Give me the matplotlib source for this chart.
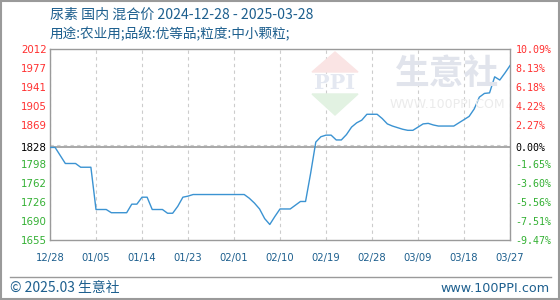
"""Grafico de precio: urea (尿素) mercado interno, estilo 100ppi."""

import matplotlib

matplotlib.use("Agg")
import matplotlib.pyplot as plt
from matplotlib.patches import Polygon, Rectangle
import numpy as np
import pandas as pd

plt.rcParams["font.family"] = ["Noto Sans CJK SC", "DejaVu Sans"]

TITULO = "尿素 国内 混合价 2024-12-28 - 2025-03-28"
SUBTITULO = "用途:农业用;品级:优等品;粒度:中小颗粒;"
PIE_IZQ = "© 2025.03 生意社"
PIE_DER = "www.100PPI.com"

FECHAS = pd.date_range("2024-12-28", "2025-03-28", freq="D")
PRECIOS = [
    1828, 1828, 1813, 1798, 1798, 1798, 1791, 1791, 1791, 1712,
    1712, 1712, 1706, 1706, 1706, 1706, 1722, 1722, 1735, 1735,
    1712, 1712, 1712, 1705, 1705, 1718, 1735, 1737, 1740, 1740,
    1740, 1740, 1740, 1740, 1740, 1740, 1740, 1740, 1740, 1733,
    1724, 1713, 1695, 1684, 1699, 1713, 1713, 1713, 1720, 1727,
    1727, 1780, 1838, 1848, 1851, 1851, 1842, 1842, 1852, 1866,
    1874, 1879, 1890, 1890, 1890, 1882, 1872, 1868, 1865, 1862,
    1860, 1860, 1866, 1872, 1873, 1870, 1868, 1868, 1868, 1868,
    1874, 1880, 1886, 1900, 1922, 1929, 1930, 1960, 1954, 1967,
    1981,
]

BASE = 1828
Y_MIN, Y_MAX = 1655, 2012
ETIQUETAS_Y = ["1655", "1690", "1726", "1762", "1798", "1828",
               "1869", "1905", "1941", "1977", "2012"]
ETIQUETAS_PCT = ["-9.47%", "-7.51%", "-5.56%", "-3.60%", "-1.65%", "0.00%",
                 "2.27%", "4.22%", "6.18%", "8.13%", "10.09%"]
ETIQUETAS_X = ["12/28", "01/05", "01/14", "01/23", "02/01", "02/10",
               "02/19", "02/28", "03/09", "03/18", "03/27"]

AZUL_TEXTO = "#1d5f8e"
ROJO = "#ff3030"
VERDE = "#33b033"
GRIS = "#9a9a9a"
ANCHO, ALTO = 560, 300


def px(x, y):
    return x / ANCHO, 1 - y / ALTO


def color_etiqueta(i):
    if i > 5:
        return ROJO
    if i < 5:
        return VERDE
    return "black"


def marca_agua(fig):
    # logo PPI y texto de fondo, muy tenue
    fig.patches.append(Polygon([px(312, 72), px(335, 52), px(358, 72)], closed=True,
                               transform=fig.transFigure, color="#fae4e4", zorder=0))
    fig.patches.append(Polygon([px(312, 94), px(335, 115), px(358, 94)], closed=True,
                               transform=fig.transFigure, color="#e2f2e2", zorder=0))
    fig.text(*px(335, 83), "PPI", fontsize=15, fontweight="bold", color="#e4e8f1",
             ha="center", va="center", family="DejaVu Serif", zorder=0)
    fig.text(*px(447, 73), "生意社", fontsize=25, fontweight="bold", color="#e1e4ec",
             ha="center", va="center", zorder=0)
    fig.text(*px(447, 104), "WWW.100PPI.COM", fontsize=9, color="#ebebeb",
             ha="center", va="center", family="DejaVu Sans", zorder=0)


def main():
    dias = (FECHAS - FECHAS[0]).days
    fig = plt.figure(figsize=(5.6, 3.0), dpi=100)
    fig.patch.set_facecolor("white")

    ax = fig.add_axes([50 / ANCHO, 1 - 240 / ALTO, 460 / ANCHO, 191 / ALTO])
    ax.set_facecolor("none")
    marca_agua(fig)

    grilla_y = np.linspace(Y_MIN, Y_MAX, 11)
    pos_y = grilla_y.copy()
    pos_y[5] = BASE

    ax.plot(dias, PRECIOS, color="#3b93d2", lw=1.0, zorder=3)
    ax.axhline(BASE, color=GRIS, lw=1.2, zorder=2)

    ax.set_xlim(0, dias[-1])
    ax.set_ylim(Y_MIN, Y_MAX)
    ax.set_xticks(np.linspace(0, dias[-1], 11))
    ax.set_xticklabels(ETIQUETAS_X, fontsize=7.2, color=AZUL_TEXTO, family="DejaVu Sans")
    ax.set_yticks(pos_y)
    ax.set_yticklabels(ETIQUETAS_Y, fontsize=7.4, family="DejaVu Sans")
    ax.set_yticks(grilla_y, minor=True)
    for i, etiqueta in enumerate(ax.get_yticklabels()):
        etiqueta.set_color(color_etiqueta(i))

    ax.tick_params(axis="both", which="both", length=0)
    ax.tick_params(axis="x", pad=9)
    ax.tick_params(axis="y", pad=21)
    for etiqueta in ax.get_yticklabels():
        etiqueta.set_horizontalalignment("left")
    ax.grid(axis="x", which="major", color="#cccccc", ls=(0, (3, 3)), lw=0.8)
    ax.grid(axis="y", which="minor", color="#cccccc", ls=(0, (3, 3)), lw=0.8)
    for spine in ax.spines.values():
        spine.set_color(GRIS)
        spine.set_linewidth(1.0)

    derecho = ax.twinx()
    derecho.set_ylim(Y_MIN, Y_MAX)
    derecho.set_yticks(pos_y)
    derecho.set_yticklabels(ETIQUETAS_PCT, fontsize=7.2, family="DejaVu Sans Mono")
    for i, etiqueta in enumerate(derecho.get_yticklabels()):
        etiqueta.set_color(color_etiqueta(i))
    derecho.tick_params(length=0, pad=4)
    for spine in derecho.spines.values():
        spine.set_visible(False)

    fig.text(*px(50, 15), TITULO, fontsize=10.1, color=AZUL_TEXTO, va="center")
    fig.text(*px(50, 34), SUBTITULO, fontsize=9.8, color=AZUL_TEXTO, va="center")

    fig.add_artist(plt.Line2D([10 / ANCHO, 551 / ANCHO], [1 - 277 / ALTO] * 2,
                              transform=fig.transFigure, color=GRIS, lw=1.0))
    fig.text(*px(10, 288), PIE_IZQ, fontsize=10, color=AZUL_TEXTO, va="center")
    fig.text(*px(550, 288), PIE_DER, fontsize=9.2, color=AZUL_TEXTO, va="center", ha="right",
             family="DejaVu Sans")

    fig.patches.append(Rectangle((0.001, 0.002), 0.997, 0.995, transform=fig.transFigure,
                                 fill=False, edgecolor=GRIS, lw=1.5))

    fig.savefig("out.png", dpi=100)
    plt.close(fig)


if __name__ == "__main__":
    main()
